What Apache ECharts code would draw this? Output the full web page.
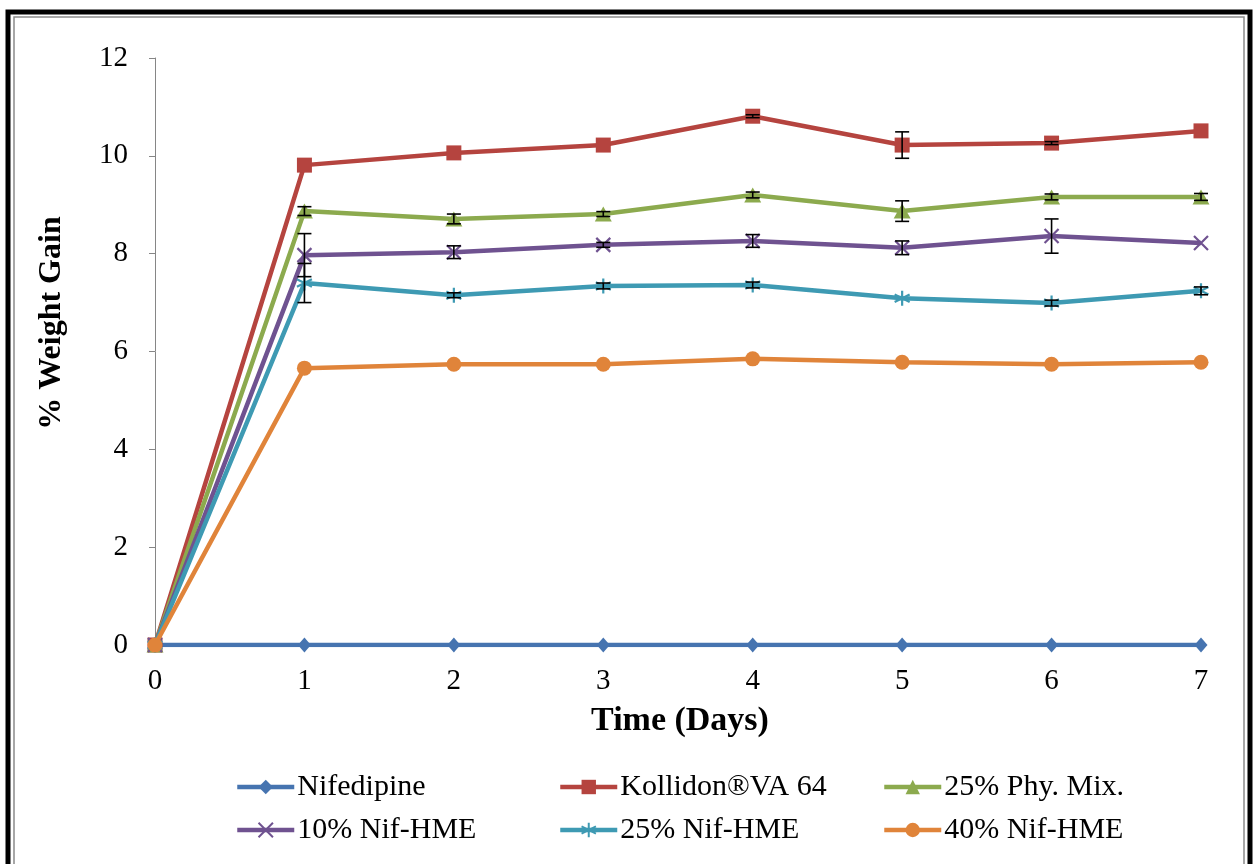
<!DOCTYPE html>
<html>
<head>
<meta charset="utf-8">
<script src="https://cdn.jsdelivr.net/npm/echarts@6/dist/echarts.min.js"></script>
<style>
  html, body { margin: 0; padding: 0; background: #fff; }
  #chart { width: 1255px; height: 864px; }
</style>
</head>
<body>
<div id="chart"></div>
<script>
// Moisture uptake (% weight gain) over seven days of storage
const days = [0, 1, 2, 3, 4, 5, 6, 7];

const seriesNames = ['Nifedipine', 'Kollidon®VA 64', '25% Phy. Mix.', '10% Nif-HME', '25% Nif-HME', '40% Nif-HME'];

const nifedipine = [0, 0, 0, 0, 0, 0, 0, 0];
const kollidon   = [0, 9.81, 10.06, 10.22, 10.81, 10.22, 10.26, 10.51];
const phyMix25   = [0, 8.87, 8.71, 8.81, 9.20, 8.87, 9.16, 9.16];
const nifHme10   = [0, 7.97, 8.03, 8.18, 8.26, 8.12, 8.36, 8.22];
const nifHme25   = [0, 7.40, 7.15, 7.34, 7.36, 7.09, 6.99, 7.24];
const nifHme40   = [0, 5.66, 5.74, 5.74, 5.85, 5.78, 5.74, 5.78];

// standard deviations (± error bar half-lengths)
const kollidonSd = [0, 0, 0, 0, 0.03, 0.27, 0.03, 0];
const phyMix25Sd = [0, 0.09, 0.10, 0.05, 0.06, 0.21, 0.06, 0.07];
const nifHme10Sd = [0, 0.44, 0.13, 0.05, 0.13, 0.14, 0.35, 0];
const nifHme25Sd = [0, 0.40, 0.05, 0.06, 0.06, 0, 0.06, 0.08];
const nifHme40Sd = [0, 0, 0, 0, 0, 0, 0, 0];

const yTicks = [0, 2, 4, 6, 8, 10, 12];

const colors = ['#4674B0', '#B5443F', '#8CAA4E', '#6F5290', '#3E9AB3', '#E0843A'];

const crossPath = 'path://M0,0L10,10M10,0L0,10';
const starPath = 'path://M5,0L5,10M0.7,2.5L9.3,7.5M9.3,2.5L0.7,7.5';

const lineDefs = [
  { data: nifedipine, symbol: 'diamond', size: [13, 15] },
  { data: kollidon,   symbol: 'rect',    size: 15 },
  { data: phyMix25,   symbol: 'triangle', size: [17, 15] },
  { data: nifHme10,   symbol: crossPath, size: 14 },
  { data: nifHme25,   symbol: starPath,  size: 15 },
  { data: nifHme40,   symbol: 'circle',  size: 15 }
];

const errDefs = [
  [kollidon, kollidonSd],
  [phyMix25, phyMix25Sd],
  [nifHme10, nifHme10Sd],
  [nifHme25, nifHme25Sd],
  [nifHme40, nifHme40Sd]
];

const errData = [];
errDefs.forEach(([vals, sds]) => {
  days.forEach((d, i) => { if (sds[i] > 0) errData.push([d, vals[i], sds[i]]); });
});

const font = '"Liberation Serif", "Times New Roman", serif';

const series = lineDefs.map((def, k) => {
  const isStroke = typeof def.symbol === 'string' && def.symbol.indexOf('path://') === 0;
  return {
    name: seriesNames[k],
    type: 'line',
    data: days.map((d, i) => [d, def.data[i]]),
    symbol: def.symbol,
    symbolSize: def.size,
    showAllSymbol: true,
    lineStyle: { color: colors[k], width: 4.5 },
    itemStyle: {
      color: colors[k],
      borderColor: colors[k],
      borderWidth: isStroke ? 2.2 : 0
    },
    emphasis: { disabled: true },
    z: 2 + k
  };
});

series.push({
  type: 'custom',
  name: 'sd',
  data: errData,
  z: 20,
  silent: true,
  renderItem: function (params, api) {
    const x = api.value(0), y = api.value(1), e = api.value(2);
    const top = api.coord([x, y + e]);
    const bot = api.coord([x, y - e]);
    const w = 7;
    const st = { stroke: '#000', lineWidth: 1.6 };
    return {
      type: 'group',
      children: [
        { type: 'line', shape: { x1: top[0], y1: top[1], x2: bot[0], y2: bot[1] }, style: st },
        { type: 'line', shape: { x1: top[0] - w, y1: top[1], x2: top[0] + w, y2: top[1] }, style: st },
        { type: 'line', shape: { x1: bot[0] - w, y1: bot[1], x2: bot[0] + w, y2: bot[1] }, style: st }
      ]
    };
  }
});

// one legend block per entry so the entries line up in three columns
const legendPos = [
  [235, 771], [558, 771], [882, 771],
  [235, 814], [558, 814], [882, 814]
];
const legends = seriesNames.map((n, k) => ({
  data: [n],
  left: legendPos[k][0],
  top: legendPos[k][1],
  padding: 0,
  itemWidth: 57,
  itemHeight: 18,
  itemGap: 0,
  selectedMode: false,
  lineStyle: { width: 4.5 },
  textStyle: { fontFamily: font, fontSize: 30, color: '#000', lineHeight: 32, padding: [0, 0, 0, -2] }
}));

const chart = echarts.init(document.getElementById('chart'), null, { renderer: 'canvas' });
chart.setOption({
  animation: false,
  backgroundColor: '#fff',
  grid: { left: 155, right: 54, top: 58, bottom: 219, containLabel: false },
  legend: legends,
  xAxis: {
    type: 'value',
    min: 0, max: 7, interval: 1,
    axisLine: { show: true, onZero: false, lineStyle: { color: '#868686', width: 1 } },
    axisTick: { show: false },
    splitLine: { show: false },
    axisLabel: { fontFamily: font, fontSize: 29, color: '#000', margin: 22 }
  },
  yAxis: {
    type: 'value',
    min: yTicks[0], max: yTicks[yTicks.length - 1], interval: 2,
    axisLine: { show: true, lineStyle: { color: '#868686', width: 1 } },
    axisTick: { show: true, length: 6, lineStyle: { color: '#868686' } },
    splitLine: { show: false },
    axisLabel: { fontFamily: font, fontSize: 29, color: '#000', margin: 27 }
  },
  graphic: [
    { type: 'rect', shape: { x: 8, y: 12, width: 1242, height: 900 }, style: { fill: 'none', stroke: '#000', lineWidth: 5 }, z: 100 },
    { type: 'rect', shape: { x: 14, y: 17, width: 1230, height: 900 }, style: { fill: 'none', stroke: '#8a8a8a', lineWidth: 1.5 }, z: 100 },
    {
      type: 'text', x: 680, y: 721, z: 100,
      style: { text: 'Time (Days)', font: 'bold 34px ' + font, fill: '#000', textAlign: 'center', textVerticalAlign: 'middle' }
    },
    {
      type: 'text', x: 52, y: 323, rotation: Math.PI / 2, z: 100,
      style: { text: '% Weight Gain', font: 'bold 32px ' + font, fill: '#000', textAlign: 'center', textVerticalAlign: 'middle' }
    }
  ],
  series: series
});
</script>
</body>
</html>
